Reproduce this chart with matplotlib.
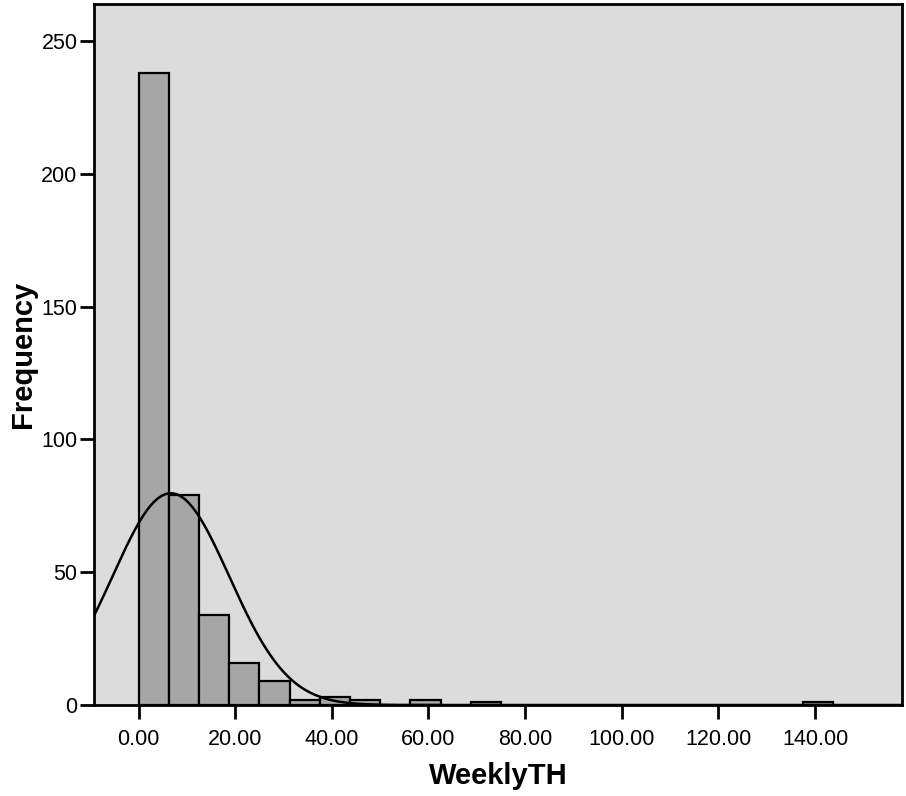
import matplotlib.pyplot as plt
import numpy as np

plt.rcParams["font.family"] = ["Liberation Sans", "DejaVu Sans"]

# histogram bins (WeeklyTH), bin width 6.25
bin_left = [0.0, 6.25, 12.5, 18.75, 25.0, 31.25, 37.5, 43.75, 56.25, 68.75, 137.5]
bin_counts = [238, 79, 34, 16, 9, 2, 3, 2, 2, 1, 1]
bin_width = 6.25

# fitted normal curve
fit_mean = 6.7
fit_sd = 12.1
n_total = sum(bin_counts)

x_ticks = [0, 20, 40, 60, 80, 100, 120, 140]
y_ticks = [0, 50, 100, 150, 200, 250]

fig = plt.figure(figsize=(9.06, 7.96), dpi=100)
ax = fig.add_axes([0.1038, 0.1143, 0.8918, 0.8807])
ax.set_facecolor("#dcdcdc")

ax.bar(bin_left, bin_counts, width=bin_width, align="edge",
       color="#a6a6a6", edgecolor="black", linewidth=1.6, zorder=2)

xs = np.linspace(-9.2, 158, 600)
ys = n_total * bin_width / (fit_sd * np.sqrt(2 * np.pi)) * np.exp(-0.5 * ((xs - fit_mean) / fit_sd) ** 2)
ax.plot(xs, ys, color="black", linewidth=1.8, zorder=3)

ax.set_xlim(-9.2, 158)
ax.set_ylim(0, 264)
ax.set_xticks(x_ticks)
ax.set_xticklabels(["%.2f" % v for v in x_ticks])
ax.set_yticks(y_ticks)

for s in ax.spines.values():
    s.set_linewidth(2)
ax.tick_params(axis="both", direction="out", length=10, width=2, labelsize=15.5)
ax.tick_params(axis="x", pad=7)
ax.tick_params(axis="y", pad=2)

ax.set_xlabel("WeeklyTH", fontsize=21, fontweight="bold", labelpad=9)
ax.set_ylabel("Frequency", fontsize=21, fontweight="bold")
ax.yaxis.set_label_coords(-0.07, 0.5)

fig.savefig("out.png", dpi=100)
